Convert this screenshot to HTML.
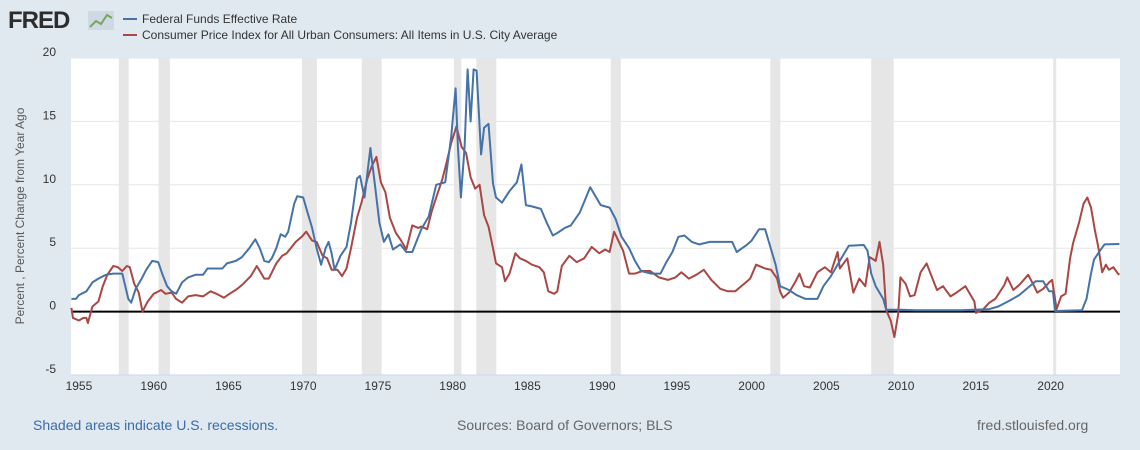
<!DOCTYPE html>
<html><head><meta charset="utf-8"><style>
body{margin:0;background:#e1e9f0;width:1140px;height:450px;overflow:hidden;font-family:"Liberation Sans",sans-serif}
svg{position:absolute;left:0;top:0}
</style></head><body>
<svg id="chart" width="1140" height="450">
<g>
<text x="8" y="28" font-size="24" font-weight="bold" fill="#2d2d2d" font-family="Liberation Sans" letter-spacing="-1">FRED</text>
<rect x="88" y="11" width="26" height="19" fill="#cfd9e3"/>
<polyline points="90,27 96,21 101,24 107,15 112,18" fill="none" stroke="#7aa65a" stroke-width="2"/>
</g>
<g>
<line x1="123" y1="19" x2="137" y2="19" stroke="#4572a7" stroke-width="2"/>
<text x="142" y="23" font-size="12" fill="#333">Federal Funds Effective Rate</text>
<line x1="123" y1="35" x2="137" y2="35" stroke="#aa4643" stroke-width="2"/>
<text x="142" y="39" font-size="12" fill="#333">Consumer Price Index for All Urban Consumers: All Items in U.S. City Average</text>
</g>
<rect x="71" y="58" width="1049" height="317" fill="#fff"/>
<g id="rec"></g><g id="grid"></g><g id="series"></g>
<text transform="translate(24,216) rotate(-90)" text-anchor="middle" font-size="12" fill="#595959">Percent , Percent Change from Year Ago</text>
<text x="33" y="430" font-size="14" fill="#3a6aa8">Shaded areas indicate U.S. recessions.</text>
<text x="457" y="430" font-size="14" fill="#666">Sources: Board of Governors; BLS</text>
<text x="977" y="430" font-size="14" fill="#666">fred.stlouisfed.org</text>
</svg>
<script>
const ffYears=[1954.5,1954.8,1955.0,1955.5,1955.9,1956.3,1956.8,1957.3,1957.9,1958.1,1958.3,1958.5,1958.8,1959.2,1959.5,1959.9,1960.3,1960.6,1960.9,1961.2,1961.5,1961.9,1962.3,1962.8,1963.3,1963.6,1964.0,1964.6,1964.9,1965.5,1965.9,1966.4,1966.8,1967.1,1967.4,1967.7,1967.9,1968.2,1968.5,1968.8,1969.0,1969.4,1969.6,1970.0,1970.3,1970.6,1970.9,1971.2,1971.5,1971.7,1971.9,1972.1,1972.5,1972.9,1973.2,1973.6,1973.8,1974.1,1974.5,1974.8,1975.1,1975.4,1975.7,1976.0,1976.5,1976.9,1977.3,1977.9,1978.4,1978.9,1979.5,1979.9,1980.2,1980.35,1980.55,1980.8,1981.0,1981.2,1981.4,1981.6,1981.9,1982.1,1982.4,1982.7,1982.9,1983.3,1983.8,1984.3,1984.6,1984.9,1985.3,1985.9,1986.3,1986.7,1987.0,1987.5,1987.9,1988.5,1989.2,1989.5,1989.9,1990.5,1990.9,1991.3,1991.8,1992.2,1992.6,1993.3,1993.9,1994.3,1994.7,1995.1,1995.5,1996.0,1996.5,1997.2,1998.0,1998.7,1999.0,1999.6,2000.0,2000.5,2000.9,2001.2,2001.6,2001.9,2002.5,2003.0,2003.6,2004.4,2004.8,2005.3,2005.9,2006.5,2007.5,2007.75,2008.0,2008.3,2008.8,2009.0,2010.0,2011.0,2014.0,2015.9,2016.5,2017.3,2017.9,2018.5,2019.0,2019.5,2019.9,2020.15,2020.3,2022.1,2022.4,2022.7,2022.9,2023.3,2023.6,2024.6];
const ffValues=[1.0,1.0,1.3,1.6,2.3,2.6,2.9,3.0,3.0,2.0,1.0,0.7,1.8,2.6,3.3,4.0,3.9,2.9,2.0,1.6,1.4,2.3,2.7,2.9,2.9,3.4,3.4,3.4,3.8,4.0,4.3,5.0,5.7,5.0,4.0,3.9,4.2,5.0,6.1,5.9,6.3,8.5,9.1,9.0,7.8,6.6,5.0,3.7,5.0,5.5,4.6,3.3,4.4,5.1,7.0,10.5,10.7,9.0,12.9,10.0,7.0,5.5,6.1,4.9,5.3,4.7,4.7,6.5,7.5,10.0,10.2,13.8,17.6,13.0,9.0,13.0,19.1,15.0,19.1,19.0,12.4,14.5,14.8,10.1,9.0,8.6,9.5,10.2,11.6,8.4,8.3,8.1,7.0,6.0,6.2,6.6,6.8,7.8,9.8,9.2,8.4,8.2,7.3,5.9,5.0,4.0,3.2,3.0,3.0,3.9,4.7,5.9,6.0,5.5,5.3,5.5,5.5,5.5,4.7,5.2,5.6,6.5,6.5,5.3,3.7,2.0,1.7,1.3,1.0,1.0,2.0,2.8,4.0,5.2,5.25,4.8,3.0,2.0,1.0,0.15,0.15,0.1,0.1,0.2,0.4,0.9,1.3,1.9,2.4,2.4,1.6,1.6,0.05,0.1,1.0,3.0,4.1,4.8,5.3,5.33];
const cpiYears=[1954.5,1954.6,1955.0,1955.3,1955.5,1955.6,1955.9,1956.3,1956.6,1956.9,1957.3,1957.6,1957.9,1958.2,1958.4,1958.7,1959.0,1959.25,1959.6,1960.0,1960.5,1960.8,1961.2,1961.5,1961.9,1962.3,1962.8,1963.3,1963.8,1964.2,1964.7,1965.2,1965.6,1966.0,1966.5,1966.9,1967.4,1967.7,1968.2,1968.6,1968.9,1969.5,1969.9,1970.2,1970.6,1970.9,1971.3,1971.6,1971.9,1972.3,1972.6,1972.9,1973.2,1973.6,1973.9,1974.3,1974.6,1974.9,1975.2,1975.5,1975.8,1976.2,1976.5,1976.9,1977.3,1977.7,1977.9,1978.3,1978.6,1978.9,1979.3,1979.6,1979.9,1980.25,1980.6,1980.9,1981.2,1981.5,1981.8,1982.1,1982.4,1982.7,1982.9,1983.3,1983.5,1983.8,1984.2,1984.5,1984.9,1985.3,1985.8,1986.1,1986.4,1986.8,1987.0,1987.3,1987.8,1988.3,1988.8,1989.3,1989.8,1990.2,1990.5,1990.8,1991.0,1991.4,1991.8,1992.2,1992.7,1993.2,1993.8,1994.4,1994.9,1995.3,1995.8,1996.3,1996.8,1997.3,1997.9,1998.4,1998.9,1999.4,1999.9,2000.3,2000.9,2001.3,2001.7,2001.9,2002.1,2002.5,2002.9,2003.2,2003.5,2003.9,2004.4,2004.9,2005.3,2005.75,2005.9,2006.4,2006.8,2007.2,2007.6,2007.9,2008.3,2008.55,2008.8,2009.0,2009.3,2009.55,2009.8,2009.95,2010.3,2010.6,2010.9,2011.3,2011.7,2012.0,2012.4,2012.8,2013.3,2013.7,2014.3,2014.9,2015.0,2015.5,2015.9,2016.3,2016.9,2017.1,2017.5,2017.9,2018.5,2018.9,2019.1,2019.5,2019.9,2020.1,2020.4,2020.7,2021.0,2021.3,2021.5,2021.9,2022.2,2022.45,2022.7,2022.95,2023.2,2023.45,2023.7,2023.9,2024.2,2024.5,2024.6];
const cpiValues=[0.3,-0.5,-0.7,-0.5,-0.5,-0.9,0.4,0.8,2.0,2.9,3.6,3.5,3.2,3.6,3.5,2.2,1.5,0.0,0.8,1.4,1.7,1.4,1.5,1.0,0.7,1.2,1.3,1.2,1.6,1.4,1.1,1.5,1.8,2.2,2.8,3.6,2.6,2.6,3.8,4.4,4.6,5.5,5.9,6.3,5.6,5.5,4.4,4.2,3.3,3.3,2.8,3.4,5.0,7.4,8.6,10.5,11.5,12.2,10.2,9.4,7.4,6.2,5.7,4.9,6.8,6.6,6.7,6.5,7.9,9.0,10.4,11.8,13.3,14.6,13.0,12.5,10.6,9.7,10.0,7.6,6.7,5.0,3.8,3.5,2.4,3.0,4.6,4.2,4.0,3.7,3.5,3.1,1.6,1.4,1.6,3.6,4.4,3.9,4.2,5.1,4.6,4.9,4.7,6.3,5.8,4.8,3.0,3.0,3.2,3.2,2.7,2.5,2.7,3.1,2.6,2.9,3.3,2.5,1.8,1.6,1.6,2.1,2.6,3.7,3.4,3.3,2.6,1.6,1.1,1.5,2.3,3.0,2.0,1.9,3.1,3.5,3.1,4.7,3.4,4.2,1.5,2.6,2.0,4.3,4.0,5.5,3.7,0.1,-0.7,-2.0,-0.2,2.7,2.2,1.2,1.3,3.1,3.8,2.9,1.7,2.0,1.2,1.5,2.0,0.8,-0.1,0.2,0.7,1.0,2.1,2.7,1.7,2.1,2.9,2.0,1.5,1.8,2.3,2.5,0.2,1.2,1.4,4.2,5.4,7.0,8.5,9.0,8.2,6.5,5.0,3.1,3.7,3.3,3.5,3.0,2.9];
const recStart=[1957.67,1960.33,1969.92,1973.92,1980.08,1981.58,1990.58,2001.25,2008.0,2020.17];
const recEnd=[1958.33,1961.08,1970.92,1975.25,1980.58,1982.92,1991.25,2001.92,2009.5,2020.33];
const yTicks=[-5,0,5,10,15,20];
const xTicks=[1955,1960,1965,1970,1975,1980,1985,1990,1995,2000,2005,2010,2015,2020];
const X0=71,X1=1120,Y0=375,Y1=58,YR0=1954.47,YR1=2024.64,V0=-5,V1=20;
const xs=y=>X0+(y-YR0)/(YR1-YR0)*(X1-X0);
const ys=v=>Y0-(v-V0)/(V1-V0)*(Y0-Y1);
const NS="http://www.w3.org/2000/svg";
function mk(tag,attrs,parent){const e=document.createElementNS(NS,tag);for(const k in attrs)e.setAttribute(k,attrs[k]);parent.appendChild(e);return e;}
const rec=document.getElementById('rec'),grid=document.getElementById('grid'),ser=document.getElementById('series');
recStart.forEach((s,i)=>{const r=mk('rect',{x:xs(s),y:Y1,width:Math.max(3,xs(recEnd[i])-xs(s)),height:Y0-Y1,fill:'#e6e6e6'},rec);

});
yTicks.forEach(v=>{if(v!==0&&v!==-5){const l=mk('line',{x1:X0,x2:X1,y1:ys(v),y2:ys(v),stroke:'#e6e6e6'},grid);

}
const t=mk('text',{x:56,y:ys(v)-2,'text-anchor':'end','font-size':12,fill:'#333'},grid);t.textContent=v;

});
const ax=mk('line',{x1:X0,x2:X1,y1:Y0,y2:Y0,stroke:'#ccd6eb'},grid);


xTicks.forEach(y=>{const t=mk('text',{x:xs(y),y:Y0+15,'text-anchor':'middle','font-size':12,fill:'#333'},grid);t.textContent=y;

});
const z=mk('line',{x1:X0,x2:X1,y1:ys(0),y2:ys(0),stroke:'#000','stroke-width':2},ser);


function line(yrs,vals,col,name){const p=mk('polyline',{points:yrs.map((y,i)=>xs(y).toFixed(1)+','+ys(vals[i]).toFixed(1)).join(' '),fill:'none',stroke:col,'stroke-width':2,'stroke-linejoin':'round'},ser);

}
line(cpiYears,cpiValues,'#aa4643','cpi-line');
line(ffYears,ffValues,'#4572a7','fedfunds-line');
</script>
</body></html>
